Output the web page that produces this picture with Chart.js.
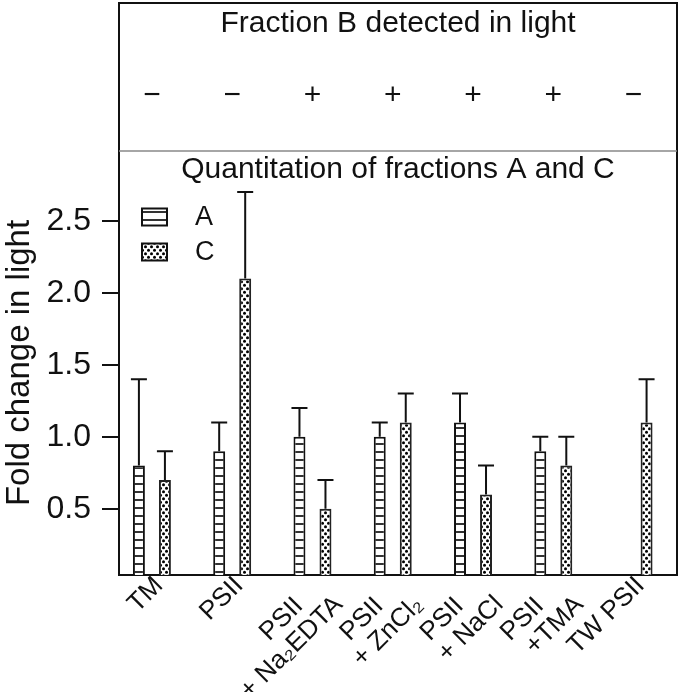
<!DOCTYPE html>
<html>
<head>
<meta charset="utf-8">
<script src="https://cdn.jsdelivr.net/npm/chart.js@4.4.1/dist/chart.umd.min.js"></script>
<style>
  html, body { margin: 0; padding: 0; background: #fff; }
  #wrap { width: 683px; height: 692px; position: relative; }
</style>
</head>
<body>
<div id="wrap"><canvas id="foldChart"></canvas></div>
<script>
// Treatments on the x axis (second lines hang to the right of the first)
const treatments = [
  "TM", "PSII", ["PSII    ", "+ Na₂EDTA"], ["PSII    ", "+ ZnCl₂"], ["PSII    ", "+ NaCl"], ["PSII    ", "+TMA"], "TW PSII"
];
// Fraction B detected in light (top panel)
const fractionB = ["−", "−", "+", "+", "+", "+", "−"];
// Fold change in light for fractions A and C, with upper error
const fractionA = [0.8, 0.9, 1.0, 1.0, 1.1, 0.9, null];
const fractionAErr = [0.6, 0.2, 0.2, 0.1, 0.2, 0.1, null];
const fractionC = [0.7, 2.1, 0.5, 1.1, 0.6, 0.8, 1.1];
const fractionCErr = [0.2, 0.6, 0.2, 0.2, 0.2, 0.2, 0.3];
const yTicks = [0.5, 1.0, 1.5, 2.0, 2.5];

const FONT = "'Liberation Sans', Arial, sans-serif";
const INK = "#111";

function stripePattern() {
  const c = document.createElement("canvas");
  c.width = 8; c.height = 8;
  const g = c.getContext("2d");
  g.fillStyle = "#fff"; g.fillRect(0, 0, 8, 8);
  g.fillStyle = "#333"; g.fillRect(0, 3, 8, 2);
  return g.createPattern(c, "repeat");
}

function dotPattern() {
  const c = document.createElement("canvas");
  c.width = 6; c.height = 7;
  const g = c.getContext("2d");
  g.fillStyle = "#fff"; g.fillRect(0, 0, 6, 7);
  g.fillStyle = "#000";
  [[1.5, 1.75], [4.5, 5.25]].forEach(([px, py]) => {
    g.beginPath(); g.arc(px, py, 1.5, 0, Math.PI * 2); g.fill();
  });
  return g.createPattern(c, "repeat");
}

const stripes = stripePattern();
const dots = dotPattern();
const errors = [fractionAErr, fractionCErr];
const byIndex = vals => vals.map((v, i) => ({ x: i, y: v }));

// error bars, y tick marks, top panel, subtitle and legend
const panelPlugin = {
  id: "panels",
  afterDatasetsDraw(chart) {
    const { ctx, scales: { y } } = chart;
    ctx.save();
    ctx.strokeStyle = INK;
    ctx.lineWidth = 2;
    chart.data.datasets.forEach((ds, di) => {
      chart.getDatasetMeta(di).data.forEach((bar, i) => {
        const v = ds.data[i].y;
        const e = errors[di][i];
        if (v == null || e == null) return;
        const top = y.getPixelForValue(v + e);
        ctx.beginPath();
        ctx.moveTo(bar.x, bar.y);
        ctx.lineTo(bar.x, top);
        ctx.moveTo(bar.x - 8, top);
        ctx.lineTo(bar.x + 8, top);
        ctx.stroke();
      });
    });
    ctx.restore();
  },
  afterDraw(chart) {
    const { ctx, chartArea: a, scales: { x, y } } = chart;
    const panelTop = 3;
    ctx.save();
    // frame
    ctx.strokeStyle = INK;
    ctx.lineWidth = 2;
    ctx.beginPath();
    ctx.moveTo(a.left, a.bottom);
    ctx.lineTo(a.left, panelTop);
    ctx.lineTo(a.right, panelTop);
    ctx.lineTo(a.right, a.bottom + 1);
    ctx.stroke();
    // y tick marks
    ctx.fillStyle = INK;
    yTicks.forEach(v => {
      const py = Math.round(y.getPixelForValue(v));
      ctx.fillRect(a.left - 17, py - 1, 17, 2);
    });
    ctx.strokeStyle = "#888";
    ctx.lineWidth = 1.5;
    ctx.beginPath();
    ctx.moveTo(a.left, a.top);
    ctx.lineTo(a.right, a.top);
    ctx.stroke();

    ctx.fillStyle = INK;
    ctx.textAlign = "center";
    ctx.textBaseline = "middle";
    const mid = (a.left + a.right) / 2;
    ctx.font = "30px " + FONT;
    ctx.fillText("Fraction B detected in light", mid, 24);
    fractionB.forEach((s, i) => ctx.fillText(s, x.getPixelForValue(i), 96));
    ctx.fillText("Quantitation of fractions A and C", mid, 170);

    // legend
    const rows = [217, 252];
    ctx.font = "27px " + FONT;
    ctx.textAlign = "left";
    chart.data.datasets.forEach((ds, di) => {
      const cy = rows[di];
      const bx = a.left + 23, bw = 25, bh = 17;
      ctx.fillStyle = ds.backgroundColor;
      ctx.fillRect(bx, cy - bh / 2, bw, bh);
      ctx.strokeStyle = INK;
      ctx.lineWidth = 2;
      ctx.strokeRect(bx, cy - bh / 2, bw, bh);
      ctx.fillStyle = INK;
      ctx.fillText(ds.label, a.left + 76, cy + 1);
    });
    ctx.restore();
  }
};

new Chart(document.getElementById("foldChart"), {
  type: "bar",
  data: {
    datasets: [
      {
        label: "A",
        data: byIndex(fractionA),
        backgroundColor: stripes,
        borderColor: INK,
        borderWidth: 2,
        categoryPercentage: 0.648,
        barPercentage: 0.46
      },
      {
        label: "C",
        data: byIndex(fractionC),
        backgroundColor: dots,
        borderColor: "#222",
        borderWidth: 2,
        categoryPercentage: 0.648,
        barPercentage: 0.46
      }
    ]
  },
  options: {
    responsive: true,
    maintainAspectRatio: false,
    animation: false,
    events: [],
    layout: { padding: { top: 151, right: 6, left: 0, bottom: 0 } },
    plugins: { legend: { display: false }, tooltip: { enabled: false } },
    scales: {
      x: {
        type: "linear",
        min: -0.41,
        max: 6.541,
        offset: false,
        afterBuildTicks: s => { s.ticks = treatments.map((_, i) => ({ value: i })); },
        afterFit: s => { s.height = 117; },
        grid: { display: false, drawTicks: false, offset: false },
        border: { color: INK, width: 2 },
        ticks: {
          autoSkip: false, minRotation: 45, maxRotation: 45, labelOffset: 7,
          callback: v => treatments[Math.round(v)],
          font: { size: 26, family: FONT, lineHeight: 1.04 }, color: INK, padding: -3
        }
      },
      y: {
        min: 0.04,
        max: 2.985,
        afterBuildTicks: s => { s.ticks = yTicks.map(v => ({ value: v })); },
        afterFit: s => { s.width = 119; },
        ticks: {
          callback: v => v.toFixed(1),
          font: { size: 32, family: FONT }, color: INK, padding: 12
        },
        grid: { drawOnChartArea: false, drawTicks: true, tickLength: 16, color: INK, lineWidth: 2 },
        border: { color: INK, width: 2 },
        title: {
          display: true, text: "Fold change in light",
          font: { size: 33, family: FONT }, color: INK, padding: 0
        }
      }
    }
  },
  plugins: [panelPlugin]
});
</script>
</body>
</html>
